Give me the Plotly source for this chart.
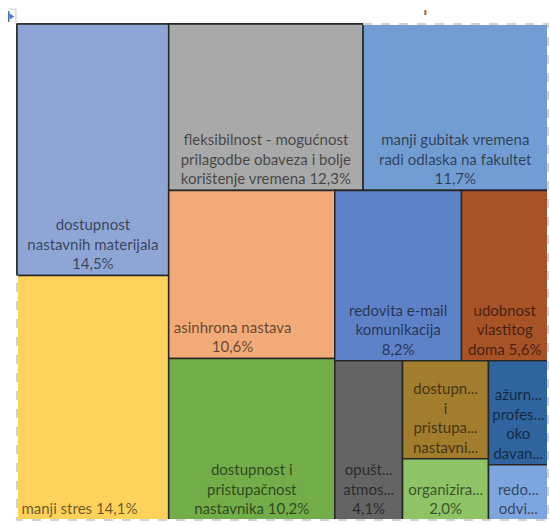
import plotly.graph_objects as go

# leaf cells, in the order the chart places them
labels = [
    "dostupnost<br>nastavnih materijala",
    "manji stres",
    "fleksibilnost - mogućnost<br>prilagodbe obaveza i bolje<br>korištenje vremena",
    "manji gubitak vremena<br>radi odlaska na fakultet",
    "asinhrona nastava",
    "dostupnost i<br>pristupačnost<br>nastavnika",
    "redovita e-mail<br>komunikacija",
    "udobnost<br>vlastitog<br>doma",
    "opušt...<br>atmos...",
    "dostupn...<br>i<br>pristupa...<br>nastavni...",
    "organizira...",
    "ažurn...<br>profes...<br>oko<br>davan...",
    "redo...<br>odvi...",
]
values = [14.5, 14.1, 12.3, 11.7, 10.6, 10.2, 8.2, 5.6, 4.1, 3.2, 2.0, 2.35, 1.25]
# how the percentage follows the label (None = truncated away)
pct_join = ["<br>", " ", " ", "<br>", "<br>", " ", "<br>", " ", "<br>", None, "<br>", None, None]
colors = [
    "#8EA6D6", "#FFD25C", "#A9A9A9", "#729DD3", "#F2AA79", "#72AD4A", "#5E82C7",
    "#A85228", "#646464", "#A27D2E", "#8EC466", "#30649E", "#7EA6DE",
]

# strip grouping used by the tiling (parent of each leaf)
leaf_parent = ["A", "A", "B", "B", "C", "C", "D", "D", "R4", "c1", "c1", "c2", "c2"]
groups = ["A", "R1", "B", "R2", "C", "R3", "D", "R4", "c1", "c2"]
group_parent = ["", "", "R1", "R1", "R2", "R2", "R3", "R3", "R4", "R4"]

# labels that sit left in their cell: trailing no-break spaces per line
left_pad = {1: 7, 4: 10}

ids, parents, vals, texts, fills = [], [], [], [], []


def add_group(g):
    i = groups.index(g)
    ids.append(g)
    parents.append(group_parent[i])
    vals.append(0)
    texts.append("")
    fills.append("white")


def add_leaf(i):
    ids.append(f"L{i}")
    parents.append(leaf_parent[i])
    vals.append(values[i])
    pct = f"{values[i]:.1f}".replace(".", ",") + "%"
    t = labels[i] if pct_join[i] is None else labels[i] + pct_join[i] + pct
    if i in left_pad:
        t = "<br>".join(line + "\u00a0" * left_pad[i] for line in t.split("<br>"))
    texts.append(t)
    fills.append(colors[i])


# order matters: children are tiled in array order
add_group("A"); add_leaf(0); add_leaf(1)
add_group("R1"); add_group("B"); add_leaf(2); add_leaf(3)
add_group("R2"); add_group("C"); add_leaf(4); add_leaf(5)
add_group("R3"); add_group("D"); add_leaf(6); add_leaf(7)
add_group("R4"); add_leaf(8)
add_group("c1"); add_leaf(9); add_leaf(10)
add_group("c2"); add_leaf(11); add_leaf(12)

fig = go.Figure(go.Treemap(
    ids=ids,
    labels=ids,
    parents=parents,
    values=vals,
    branchvalues="remainder",
    sort=False,
    text=texts,
    texttemplate="%{text}",
    textposition="bottom center",
    textfont=dict(family="Lato", size=15, color="rgba(0,0,0,0.6)"),
    marker=dict(colors=fills, line=dict(color="#262626", width=1.5),
                pad=dict(t=0, l=0, r=0, b=0)),
    tiling=dict(packing="slice-dice", pad=0),
    pathbar=dict(visible=False),
    hoverinfo="skip",
))

# dashed selection frame where the chart has no dark cell border
total = sum(values)
left_w = (values[0] + values[1]) / total
gap_x = left_w + (1 - left_w) * values[2] / (values[2] + values[3])
stres_y = values[1] / (values[0] + values[1])
frame_path = f"M {gap_x},1 L 1,1 L 1,0 L 0,0 L 0,{stres_y}"
frame = []
for dash, col, w in [("solid", "white", 2), ("dash", "#c4c4c4", 1.5)]:
    frame.append(dict(type="path", xref="paper", yref="paper", path=frame_path,
                      layer="above", line=dict(color=col, width=w, dash=dash)))

# small editor handle at the top left and a tick mark above the chart
frame.append(dict(type="path", xref="paper", yref="paper",
                  path="M -0.002,1.0 L -0.002,1.03 L -0.016,1.03",
                  line=dict(color="#c8c8c8", width=1)))
frame.append(dict(type="rect", xref="paper", yref="paper",
                  x0=-0.017, x1=-0.014, y0=1.004, y1=1.026,
                  fillcolor="#4a72c4", line=dict(width=0)))
frame.append(dict(type="path", xref="paper", yref="paper",
                  path="M -0.014,1.021 L -0.005,1.015 L -0.014,1.009 Z",
                  fillcolor="#4a72c4", line=dict(width=0)))
frame.append(dict(type="rect", xref="paper", yref="paper",
                  x0=0.767, x1=0.771, y0=1.018, y1=1.028,
                  fillcolor="#b0683a", line=dict(width=0)))

fig.update_layout(
    width=549, height=525, autosize=False,
    margin=dict(l=17, r=1, t=24, b=5),
    paper_bgcolor="white",
    shapes=frame,
)

fig.write_html("out.html", config={"displayModeBar": False},
               post_script="document.body.style.margin='0';document.body.style.overflow='hidden';")
